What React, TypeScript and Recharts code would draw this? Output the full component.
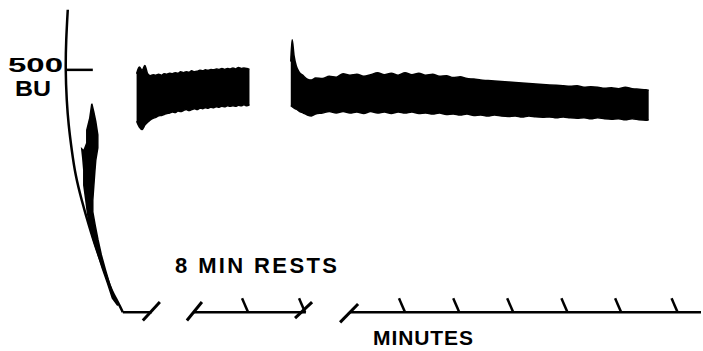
import React from 'react';
import { ComposedChart, XAxis, YAxis, Area, Scatter, ReferenceLine, Customized } from 'recharts';

// ---- recorded traces (time in minutes, consistency in BU) ----
const band2T = [0.5,0.6,0.7,0.8,0.9,1.0,1.1,1.2,1.3,1.4,1.5,1.6,1.7,1.8,1.9,2.0,2.1,2.2,2.3,2.4,2.5,2.6,2.7,2.8,2.9,3.0,3.1,3.2,3.3,3.4,3.5,3.6,3.7,3.8,3.9,4.0,4.1,4.2,4.3,4.4,4.5,4.6];
const band2Hi = [492,506,499,509,492,488,490,489,491,489,492,491,493,492,494,493,496,494,496,495,498,496,497,499,498,500,499,501,500,502,501,503,501,503,502,504,502,505,503,504,503,501];
const band2Lo = [394,382,377,386,392,397,400,402,405,406,408,410,411,413,412,415,414,416,418,416,418,420,418,421,420,422,421,423,422,424,423,425,424,426,425,426,425,427,426,428,426,428];

const band3T = [6.1,6.15,6.22,6.3,6.4,6.55,6.7,6.85,7.0,7.25,7.5,7.75,8.0,8.25,8.5,8.75,9.0,9.25,9.5,9.75,10.0,10.25,10.5,10.75,11.0,11.25,11.5,11.75,12.0,12.25,12.5,12.75,13.0,13.25,13.5,13.75,14.0,14.25,14.5,14.75,15.0,15.25,15.5,15.75,16.0,16.25,16.5,16.75,17.0,17.25,17.5,17.75,18.0,18.25,18.5,18.75,19.0,19.1];
const band3Hi = [517,562,529,508,496,488,481,479,483,482,487,485,492,489,491,487,490,494,490,493,489,494,490,493,489,491,487,488,484,486,482,481,479,478,477,476,475,474,473,472,471,470,469,468,467,466,467,464,465,464,462,463,461,464,461,460,459,458];
const band3Lo = [426,424,421,419,415,411,407,405,409,411,414,411,414,411,413,410,414,411,413,410,413,411,413,410,411,409,411,408,409,407,409,406,407,405,407,405,404,405,403,405,403,402,403,401,403,401,400,401,399,401,399,398,399,397,399,397,396,397];

// initial mixing trace that hugs the pen arc (outline, t / BU)
const band1T = [-1.127,-1.055,-0.982,-0.909,-0.909,-0.982,-1.018,-1.055,-1.091,-1.091,-1.0,-0.9,-0.78,-0.63,-0.47,-0.28,-0.182,-0.38,-0.56,-0.75,-0.93,-1.09,-1.22,-1.29,-1.345,-1.418,-1.418,-1.455,-1.491,-1.418,-1.309,-1.309,-1.2,-1.127];
const band1V = [430,413,393,366,339,314,289,260,231,207,178,149,118,87,56,25,14,29,60,91,124,153,182,207,231,262,293,318,337,333,349,376,401,430];

// pen-arc consistency axis
const arcT = [-2.0,-2.055,-2.073,-2.036,-1.964,-1.855,-1.709,-1.491,-1.236,-0.945,-0.655,-0.4,-0.182,0];
const arcV = [624,562,500,438,386,335,283,231,180,128,83,45,21,0];

// broken time axis
const axisRuns = [[0, 1.05], [2.55, 6.65], [8.25, 21]];
const breakMarks = [[0.727,-17,1.345,21],[2.327,-17,2.873,21],[6.255,-12,6.873,21],[7.891,-21,8.545,17]];
const tickT = [4.55, 6.62, 10.25, 12.22, 14.18, 16.15, 18.1, 20.15];
const bu500 = 500;

const band2 = band2T.map((t, i) => ({ t, range: [band2Lo[i], band2Hi[i]] }));
const band3 = band3T.map((t, i) => ({ t, range: [band3Lo[i], band3Hi[i]] }));
const band1 = band1T.map((t, i) => ({ t, v: band1V[i] }));
const arc = arcT.map((t, i) => ({ t, v: arcV[i] }));

const noDot = () => <g />;
const font = "'Liberation Sans', Arial, sans-serif";

const Labels = () => (
  <g fontFamily={font} fontWeight={700} fill="#000">
    <text x={8} y={72} fontSize={21} textLength={55} lengthAdjust="spacingAndGlyphs">500</text>
    <text x={15} y={96} fontSize={22} textLength={36} lengthAdjust="spacingAndGlyphs">BU</text>
    <text x={175} y={273} fontSize={22} textLength={162} lengthAdjust="spacing">8 MIN RESTS</text>
    <text x={373} y={345} fontSize={21} textLength={100} lengthAdjust="spacing">MINUTES</text>
  </g>
);

export default function App() {
  return (
    <div style={{ position: 'absolute', left: 0, top: 0, background: '#fff' }}>
      <ComposedChart width={703} height={351} margin={{ top: 2, right: 2, bottom: 0, left: 54 }}>
        <XAxis type="number" dataKey="t" domain={[-2.5, 21]} hide allowDataOverflow />
        <YAxis type="number" dataKey="v" domain={[-80, 640]} hide allowDataOverflow />
        <Area data={band2} dataKey="range" type="monotone" stroke="#000" strokeWidth={1.5} fill="#000" fillOpacity={1} isAnimationActive={false} dot={false} activeDot={false} />
        <Area data={band3} dataKey="range" type="monotone" stroke="#000" strokeWidth={1.5} fill="#000" fillOpacity={1} isAnimationActive={false} dot={false} activeDot={false} />
        <Scatter data={band1} isAnimationActive={false} shape={noDot} line={{ stroke: '#000', strokeWidth: 1.5, fill: '#000' }} lineType="joint" lineJointType="linear" />
        <Scatter data={arc} isAnimationActive={false} shape={noDot} line={{ stroke: '#000', strokeWidth: 2.5, fill: 'none' }} lineType="joint" lineJointType="natural" />
        <ReferenceLine segment={[{ x: -2.07, y: bu500 }, { x: -1.09, y: bu500 }]} stroke="#000" strokeWidth={2.5} ifOverflow="visible" />
        {axisRuns.map(([a, b], i) => (
          <ReferenceLine key={'r' + i} segment={[{ x: a, y: 0 }, { x: b, y: 0 }]} stroke="#000" strokeWidth={2.5} ifOverflow="visible" />
        ))}
        {breakMarks.map(([x1, y1, x2, y2], i) => (
          <ReferenceLine key={'b' + i} segment={[{ x: x1, y: y1 }, { x: x2, y: y2 }]} stroke="#000" strokeWidth={3} ifOverflow="visible" />
        ))}
        {tickT.map((t, i) => (
          <ReferenceLine key={'k' + i} segment={[{ x: t - 0.22, y: 29 }, { x: t, y: 0 }]} stroke="#000" strokeWidth={2.5} ifOverflow="visible" />
        ))}
        <Customized component={Labels} />
      </ComposedChart>
    </div>
  );
}
